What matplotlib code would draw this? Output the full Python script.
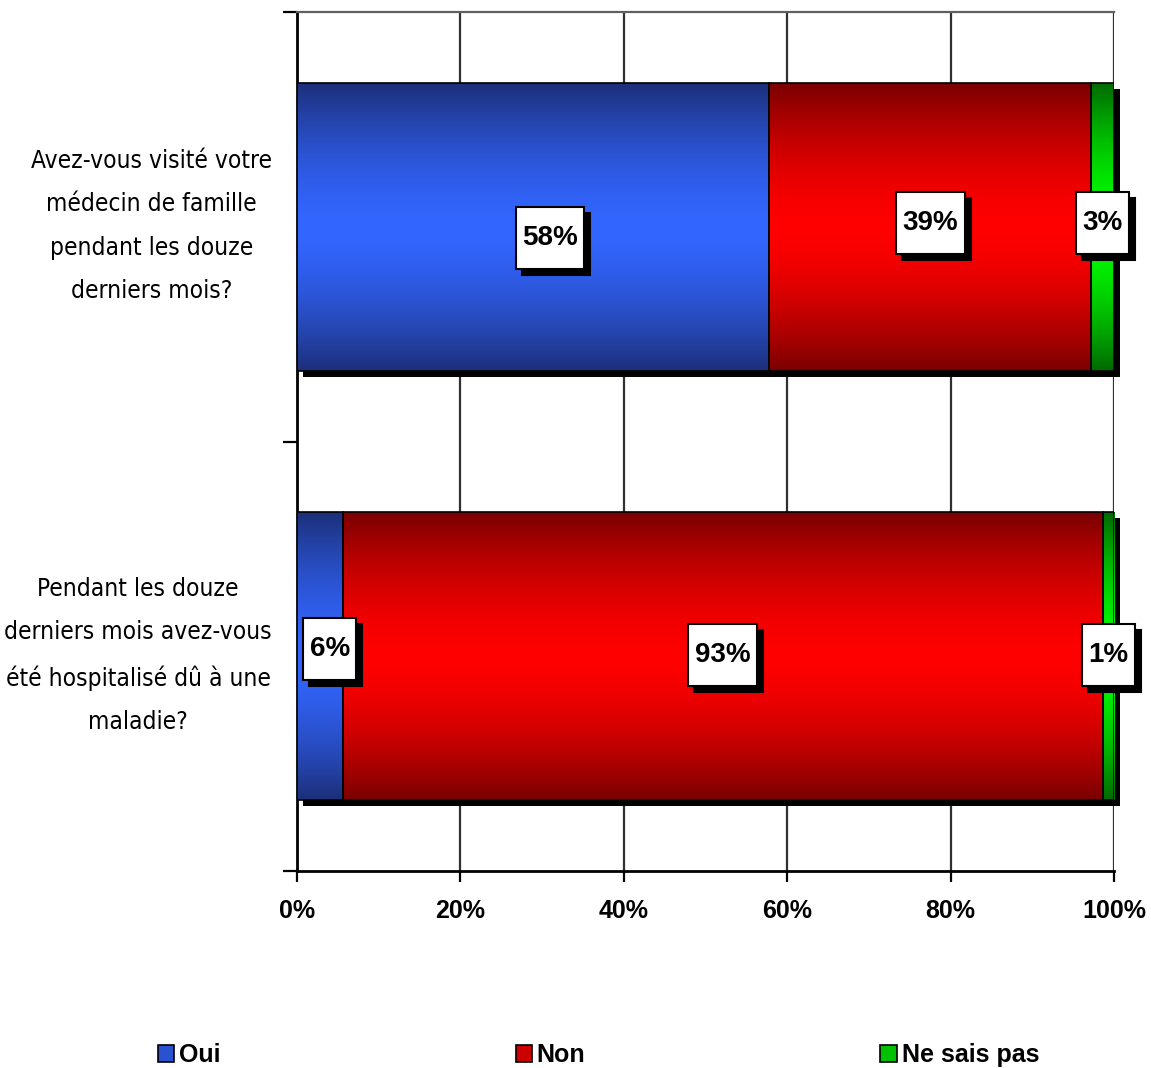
import numpy as np
import matplotlib
matplotlib.use("Agg")
import matplotlib.pyplot as plt
from matplotlib.patches import Rectangle, Patch
from matplotlib.colors import to_rgb
import matplotlib.transforms as mtransforms

# ---------------- data ----------------
questions = [
    "Avez-vous visité votre\nmédecin de famille\npendant les douze\nderniers mois?",
    "Pendant les douze\nderniers mois avez-vous\nété hospitalisé dû à une\nmaladie?",
]
series = ["Oui", "Non", "Ne sais pas"]
oui = [57.8, 5.6]
non = [39.4, 93.0]
nsp = [2.8, 1.4]
xticks = [0, 20, 40, 60, 80, 100]
xticklabels = ["0%", "20%", "40%", "60%", "80%", "100%"]

# ---------------- style ----------------
dark = ["#1c2f7a", "#7a0000", "#006a00"]
bright = ["#3366ff", "#ff0000", "#00ff00"]
mid = ["#2a52d0", "#cc0000", "#00c000"]
label_nudge_px = [[(17, -11), (0, 4), (0, 4)], [(10, 7), (0, 1), (0, 1)]]

fig = plt.figure(figsize=(11.51, 10.68), dpi=100)
ax = fig.add_axes([0.258, 0.18446, 0.7099, 0.8043])

ypos = [1.5, 0.5]
bar_h = 0.67
values = [oui, non, nsp]


def gradient(c_dark, c_bright, n=256):
    d = np.array(to_rgb(c_dark))
    b = np.array(to_rgb(c_bright))
    t = np.linspace(-1, 1, n)
    w = np.clip(1 - np.abs(t) ** 1.6, 0, 1)
    img = d[None, :] * (1 - w[:, None]) + b[None, :] * w[:, None]
    return img[:, None, :]


shadow_tr = ax.transData + mtransforms.ScaledTranslation(0.06, -0.06, fig.dpi_scale_trans)

for i, y in enumerate(ypos):
    total = sum(v[i] for v in values)
    ax.add_patch(Rectangle((0, y - bar_h / 2), total, bar_h, facecolor="black",
                           edgecolor="none", transform=shadow_tr, zorder=2, clip_on=False))
    left = 0
    for j, v in enumerate(values):
        w = v[i]
        ax.imshow(gradient(dark[j], bright[j]), extent=(left, left + w, y - bar_h / 2, y + bar_h / 2),
                  aspect="auto", interpolation="bilinear", zorder=3)
        ax.add_patch(Rectangle((left, y - bar_h / 2), w, bar_h, facecolor="none",
                               edgecolor="black", lw=1.2, zorder=4))
        left += w

ax.set_xlim(0, 100)
ax.set_ylim(0, 2)

ax.set_xticks(xticks)
ax.set_xticklabels(xticklabels, fontsize=18, fontweight="bold", family="Liberation Sans")
ax.xaxis.grid(True, color="#303030", lw=1.6, zorder=0)
ax.set_axisbelow(True)
ax.tick_params(axis="x", direction="out", length=8, width=1.6, pad=12)
ax.spines["right"].set_visible(False)
ax.spines["top"].set_color("#606060")
ax.spines["top"].set_linewidth(1.6)
ax.spines["left"].set_linewidth(2)
ax.spines["bottom"].set_linewidth(2)

ax.set_yticks([0, 1, 2])
ax.set_yticklabels([])
ax.tick_params(axis="y", which="major", direction="out", length=10, width=1.6)
ax.set_yticks(ypos, minor=True)
ax.set_yticklabels(questions, minor=True, fontsize=17.6, family="DejaVu Sans",
                   fontstretch="condensed", multialignment="center", linespacing=2.03)
ax.tick_params(axis="y", which="minor", length=0, pad=18)
for lab in ax.get_yticklabels(minor=True):
    lab.set_transform(lab.get_transform() + mtransforms.ScaledTranslation(0, 0.13, fig.dpi_scale_trans))

texts = []
for i, y in enumerate(ypos):
    left = 0
    for j, v in enumerate(values):
        w = v[i]
        dx, dy = label_nudge_px[i][j]
        tr = ax.transData + mtransforms.ScaledTranslation(dx / 100, dy / 100, fig.dpi_scale_trans)
        t = ax.text(left + w / 2, y, f"{w:.0f}%", ha="center", va="center", fontsize=20,
                    fontweight="bold", family="Liberation Sans", transform=tr, zorder=10,
                    clip_on=False)
        texts.append(t)
        left += w

fig.canvas.draw()
renderer = fig.canvas.get_renderer()
for t in texts:
    bb = t.get_window_extent(renderer)
    cx = (bb.x0 + bb.x1) / 2
    cy = (bb.y0 + bb.y1) / 2
    bw = bb.width + 13
    bh = 62
    for off, fc, z in [((6, -6), "black", 8), ((0, 0), "white", 9)]:
        r = Rectangle((cx - bw / 2 + off[0], cy - bh / 2 + off[1]), bw, bh, facecolor=fc,
                      edgecolor="black", lw=1.5, transform=mtransforms.IdentityTransform(),
                      zorder=z, clip_on=False)
        ax.add_artist(r)

handles = [Patch(facecolor=mid[j], edgecolor="black", lw=1.2) for j in range(3)]
fig.legend(handles, series, loc="center", bbox_to_anchor=(0.52, 0.012), ncol=3, frameon=False,
           prop=dict(weight="bold", size=18, family="Liberation Sans"),
           handlelength=0.65, handleheight=0.65, handletextpad=0.2, columnspacing=11.8)

fig.savefig("out.png", dpi=100)
